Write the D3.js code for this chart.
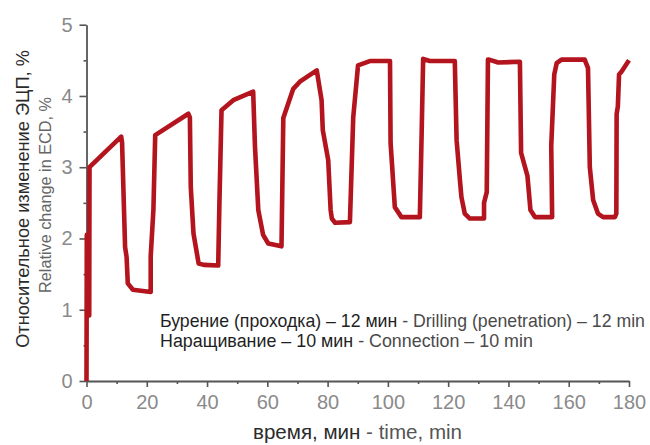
<!DOCTYPE html>
<html>
<head>
<meta charset="utf-8">
<script src="https://cdn.jsdelivr.net/npm/d3@7/dist/d3.min.js"></script>
<style>
  html, body { margin: 0; padding: 0; background: #fff; }
  svg { display: block; font-family: "Liberation Sans", Arial, sans-serif; }
</style>
</head>
<body>
<svg id="chart" width="650" height="445"></svg>
<script>
// Time, minutes
const timeMin = [
  0, 0.1, 0.7, 0.3, 0.9, 1.0,
  11.5, 11.8, 12.8, 13.3, 13.7, 15.4, 21.3, 21.3, 22.2, 22.8,
  33.8, 34.3, 34.6, 35.5, 37.2, 38.9, 43.7, 44.1, 44.8,
  48.7, 55.3, 55.9, 57.0, 58.6, 60.3, 64.7, 65.3, 68.6, 70.8, 76.4,
  78.0, 78.4, 80.2, 81.0, 81.4, 82.5, 87.4, 88.5, 90.1, 94.0, 100.7,
  100.9, 102.3, 104.5, 110.6, 111.2, 111.7, 113.9, 122.2,
  122.8, 123.9, 124.4, 125.5, 127.2, 131.9, 131.9, 132.8, 133.2, 133.6, 136.6, 143.8,
  144.2, 146.3, 147.3, 148.8, 154.5, 154.2, 155.2, 156.0, 157.6, 165.3, 166.4,
  167.0, 168.1, 169.7, 171.4, 175.3, 175.8, 175.9, 176.3, 176.7, 177.5, 180.0
];
// Relative change in ECD, %
const ecdPct = [
  0, 2.05, 0.95, 1.9, 0.92, 3.0,
  3.43, 3.35, 1.88, 1.74, 1.37, 1.28, 1.25, 1.75, 2.4, 3.45,
  3.75, 3.7, 2.72, 2.07, 1.65, 1.63, 1.62, 2.5, 3.8,
  3.94, 4.06, 3.29, 2.4, 2.05, 1.93, 1.89, 3.69, 4.1, 4.2, 4.36,
  3.94, 3.52, 3.1, 2.4, 2.28, 2.22, 2.23, 3.7, 4.43, 4.49, 4.49,
  3.34, 2.44, 2.3, 2.3, 3.47, 4.52, 4.49, 4.49,
  3.38, 2.82, 2.58, 2.35, 2.28, 2.28, 2.5, 2.65, 4.51, 4.51, 4.47, 4.48,
  3.2, 2.88, 2.4, 2.3, 2.3, 3.3, 4.3, 4.46, 4.51, 4.51, 4.39,
  3.0, 2.54, 2.35, 2.3, 2.3, 2.35, 3.75, 3.85, 4.3, 4.34, 4.5
];

const xTicks = [0, 20, 40, 60, 80, 100, 120, 140, 160, 180];
const xMinorTicks = [10, 30, 50, 70, 90, 110, 130, 150, 170];
const yTicks = [0, 1, 2, 3, 4, 5];
const yMinorTicks = [0.5, 1.5, 2.5, 3.5, 4.5];

const yTitleRu = "Относительное изменение ЭЦП, %";
const yTitleEn = "Relative change in ECD, %";
const xTitleRu = "время, мин";
const xTitleEn = " - time, min";
const noteLines = [
  ["Бурение (проходка) – 12 мин", " - Drilling (penetration) – 12 min"],
  ["Наращивание – 10 мин", " - Connection – 10 min"]
];

const svg = d3.select("#chart");
const x = d3.scaleLinear().domain([0, 180]).range([86.5, 629]);
const y = d3.scaleLinear().domain([0, 5]).range([381, 24.7]);

const axisColor = "#555";
const tickText = "#8a8a8a";

// Minor ticks first, so the main axes sit on top
svg.append("g")
  .attr("transform", `translate(0,${y(0)})`)
  .call(d3.axisBottom(x).tickValues(xMinorTicks).tickSize(3).tickFormat(""))
  .call(g => g.select(".domain").remove())
  .call(g => g.selectAll("line").attr("stroke", axisColor).attr("stroke-width", 1.6));
svg.append("g")
  .attr("transform", `translate(${x(0)},0)`)
  .call(d3.axisLeft(y).tickValues(yMinorTicks).tickSize(3).tickFormat(""))
  .call(g => g.select(".domain").remove())
  .call(g => g.selectAll("line").attr("stroke", axisColor).attr("stroke-width", 1.6));

const xAxis = svg.append("g")
  .attr("transform", `translate(0,${y(0)})`)
  .call(d3.axisBottom(x).tickValues(xTicks).tickFormat(d3.format("d"))
    .tickSize(6).tickSizeOuter(0).tickPadding(6));
const yAxis = svg.append("g")
  .attr("transform", `translate(${x(0)},0)`)
  .call(d3.axisLeft(y).tickValues(yTicks).tickFormat(d3.format("d"))
    .tickSize(7).tickSizeOuter(0).tickPadding(7));

[xAxis, yAxis].forEach(g => {
  g.select(".domain").attr("stroke", axisColor).attr("stroke-width", 1.8);
  g.selectAll(".tick line").attr("stroke", axisColor).attr("stroke-width", 1.6);
  g.selectAll(".tick text")
    .attr("fill", tickText)
    .style("font-size", "20px")
    .style("font-family", "'Liberation Sans', Arial, sans-serif");
});
xAxis.selectAll(".tick text").attr("dy", "0.78em");

// ECD curve
const pts = timeMin.map((t, i) => [t, ecdPct[i]]);
svg.append("path")
  .datum(pts)
  .attr("fill", "none")
  .attr("stroke", "#b3141d")
  .attr("stroke-width", 4.6)
  .attr("stroke-linejoin", "round")
  .attr("stroke-linecap", "butt")
  .attr("d", d3.line().x(d => x(d[0])).y(d => y(d[1])));

// Scale a text element's font so it spans the wanted width
function fitWidth(sel, width, base) {
  sel.style("font-size", base + "px");
  const w = sel.node().getComputedTextLength();
  sel.style("font-size", (base * width / w).toFixed(2) + "px");
}

// Y axis titles
const yt1 = svg.append("text")
  .attr("transform", "translate(29,199) rotate(-90)")
  .attr("text-anchor", "middle")
  .attr("fill", "#2b2b2b")
  .text(yTitleRu);
fitWidth(yt1, 298, 18);
const yt2 = svg.append("text")
  .attr("transform", "translate(51,195) rotate(-90)")
  .attr("text-anchor", "middle")
  .attr("fill", "#666")
  .text(yTitleEn);
fitWidth(yt2, 196, 16);

// X axis title
const xt = svg.append("text")
  .attr("x", 253).attr("y", 439)
  .attr("fill", "#2b2b2b");
xt.append("tspan").text(xTitleRu);
xt.append("tspan").attr("fill", "#555").text(xTitleEn);
fitWidth(xt, 209, 17);

// Drilling / connection note
const noteWidths = [485, 373];
noteLines.forEach((ln, i) => {
  const t = svg.append("text")
    .attr("x", 160).attr("y", 327 + i * 20)
    .attr("fill", "#1f1f1f");
  t.append("tspan").text(ln[0]);
  t.append("tspan").attr("fill", "#4a4a4a").text(ln[1]);
  fitWidth(t, noteWidths[i], 15);
});
</script>
</body>
</html>
